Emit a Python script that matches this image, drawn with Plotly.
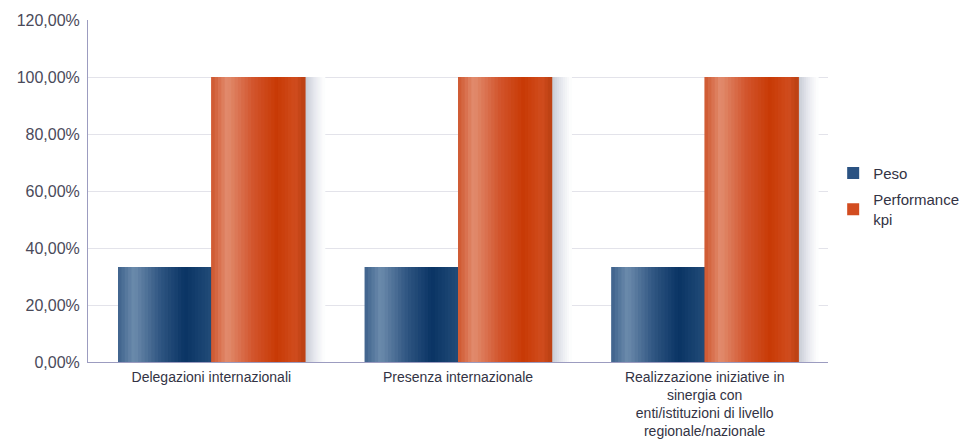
import plotly.graph_objects as go

categories = [
    "Delegazioni internazionali",
    "Presenza internazionale",
    "Realizzazione iniziative in<br>sinergia con<br>enti/istituzioni di livello<br>regionale/nazionale",
]
series_names = ["Peso", "Performance<br>kpi"]
peso = [0.3333, 0.3333, 0.3333]
performance = [1.0, 1.0, 1.0]
y_ticks = [0, 0.2, 0.4, 0.6, 0.8, 1.0, 1.2]

# styling: horizontal gradient stops (position, rgb) imitating the shiny bars
blue_stops = [(0.0, (62, 98, 140)), (0.17, (108, 139, 172)), (0.45, (48, 86, 130)),
              (0.72, (10, 52, 100)), (1.0, (34, 76, 120))]
orange_stops = [(0.0, (206, 86, 46)), (0.17, (226, 140, 110)), (0.45, (210, 84, 44)),
                (0.7, (200, 58, 5)), (0.9, (208, 76, 30)), (1.0, (186, 64, 18))]
shadow_stops = [(0.0, (196, 200, 210)), (0.5, (230, 232, 238)), (1.0, (255, 255, 255))]


def interp(stops, t):
    for (p0, c0), (p1, c1) in zip(stops[:-1], stops[1:]):
        if p0 <= t <= p1:
            f = (t - p0) / (p1 - p0) if p1 > p0 else 0
            r, g, b = (round(c0[i] + (c1[i] - c0[i]) * f) for i in range(3))
            return f"rgb({r},{g},{b})"
    r, g, b = stops[-1][1]
    return f"rgb({r},{g},{b})"


BAR_W = 0.378
N = 28
SHADOW_W = 0.08
NS = 10

fig = go.Figure()

# drop shadow to the right of the orange bars
for k in range(NS):
    fig.add_trace(go.Bar(
        x=categories, y=performance, offset=BAR_W + k * SHADOW_W / NS,
        width=SHADOW_W / NS + 0.004,
        marker=dict(color=interp(shadow_stops, (k + 0.5) / NS), line=dict(width=0)),
        showlegend=False, hoverinfo="skip"))

for name, vals, base_off, stops, legend_color in [
    (series_names[0], peso, -BAR_W, blue_stops, "#2a5282"),
    (series_names[1], performance, 0.0, orange_stops, "#d24c20"),
]:
    fig.add_trace(go.Bar(
        name=name, x=categories, y=vals, offset=base_off, width=BAR_W,
        marker=dict(color=legend_color, line=dict(width=0)),
        legendgroup=name, showlegend=True))
    for k in range(N):
        fig.add_trace(go.Bar(
            x=categories, y=vals, offset=base_off + k * BAR_W / N,
            width=BAR_W / N + 0.004,
            marker=dict(color=interp(stops, (k + 0.5) / N), line=dict(width=0)),
            legendgroup=name, showlegend=False, hoverinfo="skip"))

fig.update_layout(
    width=968, height=433,
    margin=dict(l=80, r=146, t=12, b=79),
    paper_bgcolor="white", plot_bgcolor="white",
    barmode="overlay",
    separators=",.",
    font=dict(family="Liberation Sans, Arial, sans-serif", size=15, color="#333344"),
    legend=dict(x=1.007, y=0.6, xanchor="left", yanchor="top",
                font=dict(size=15, color="#333344"), tracegroupgap=4,
                itemwidth=30),
    showlegend=True,
)
fig.update_yaxes(range=[0, 1.2], tickvals=y_ticks, tickformat=".2%",
                 showgrid=True, gridcolor="#e3e3ea", gridwidth=1,
                 showline=True, linecolor="#9c9cc0", linewidth=1,
                 zeroline=False, ticks="", automargin=False,
                 ticklabelstandoff=4,
                 tickfont=dict(size=16, color="#4a4a5a"))
fig.update_xaxes(showline=True, linecolor="#9c9cc0", linewidth=1,
                 ticks="", automargin=False, ticklabelstandoff=2,
                 tickfont=dict(size=14, color="#333344"))

fig.write_html("out.html")
